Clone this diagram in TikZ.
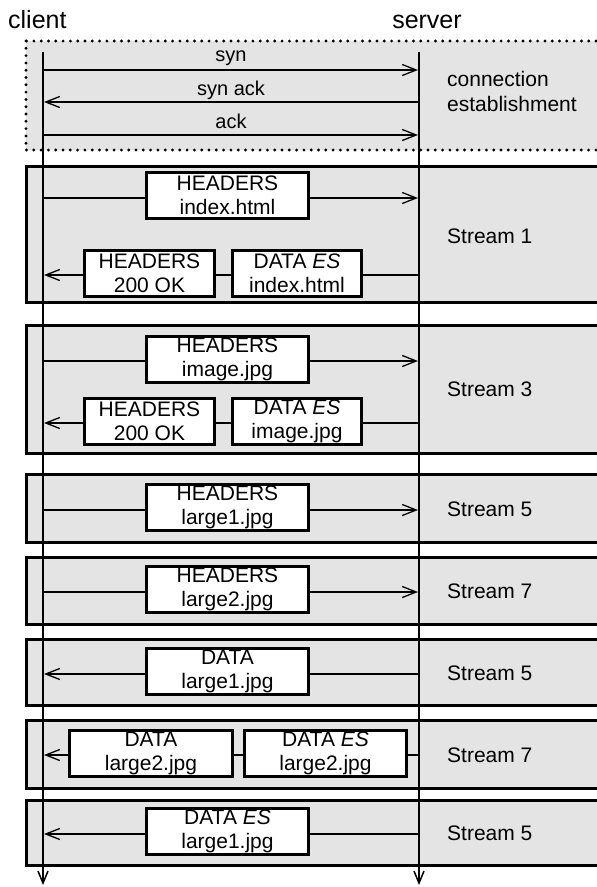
\documentclass[tikz,border=0pt]{standalone}
\usepackage{fontspec}
\setmainfont{Liberation Sans}
\usetikzlibrary{arrows.meta}
\definecolor{boxgray}{HTML}{E4E4E4}
\begin{document}
\begin{tikzpicture}[x=1pt,y=-1pt,
  grp/.style={fill=boxgray, draw=black, line width=3pt},
  dotgrp/.style={fill=boxgray, draw=black, line width=3.2pt, dash pattern=on 0pt off 7.3pt, line cap=round},
  msgbox/.style={draw, fill=white, line width=3pt, inner sep=0pt, align=center,
    font=\fontsize{21}{24}\selectfont, minimum height=46pt},
  lbl/.style={font=\fontsize{21}{25}\selectfont, align=left, anchor=west, inner sep=0pt},
  small/.style={font=\fontsize{20}{24}\selectfont, anchor=base, inner sep=0pt},
  head/.style={font=\fontsize{25}{30}\selectfont, anchor=base, inner sep=0pt},
  msg/.style={line width=1.3pt, -{Straight Barb[length=14pt,width=11pt,line width=1.3pt]}},
  wire/.style={line width=1.3pt},
  life/.style={line width=1.5pt, -{Straight Barb[length=12pt,width=10pt,line width=1.5pt]}}
]
\useasboundingbox (0,0) rectangle (597,887);
\clip (0,0) rectangle (597,887);

% titles
\node[head, anchor=base west] (client) at (8,28) {client};
\node[head] (server) at (427,28) {server};

% groups
\path[dotgrp] (26,41) rectangle (640,150);
\path[grp] (26,166) rectangle (640,302);
\path[grp] (26,325) rectangle (640,453);
\path[grp] (26,474) rectangle (640,542);
\path[grp] (26,557) rectangle (640,624);
\path[grp] (26,639) rectangle (640,705);
\path[grp] (26,720) rectangle (640,788);
\path[grp] (26,800) rectangle (640,865);

% group labels
\node[lbl] (lce) at (447,91) {connection\\establishment};
\node[lbl] (l1) at (447,236) {Stream 1};
\node[lbl] (l3) at (447,389) {Stream 3};
\node[lbl] (l5a) at (447,509) {Stream 5};
\node[lbl] (l7a) at (447,591) {Stream 7};
\node[lbl] (l5b) at (447,673) {Stream 5};
\node[lbl] (l7b) at (447,755) {Stream 7};
\node[lbl] (l5c) at (447,833) {Stream 5};

% lifelines
\coordinate (ctop) at (43,52);
\coordinate (cbot) at (43,885);
\coordinate (stop) at (419,52);
\coordinate (sbot) at (419,885);
\draw[life] (ctop) -- (cbot);
\draw[life] (stop) -- (sbot);

% connection establishment
\coordinate (c1) at (43,70);  \coordinate (s1) at (418,70);
\coordinate (c2) at (44,102); \coordinate (s2) at (419,102);
\coordinate (c3) at (43,135); \coordinate (s3) at (418,135);
\draw[msg] (c1) -- (s1);
\draw[msg] (s2) -- (c2);
\draw[msg] (c3) -- (s3);
\node[small] (syn) at (231,61) {syn};
\node[small] (synack) at (231,95) {syn ack};
\node[small] (ack) at (231,128) {ack};

% Stream 1
\coordinate (c4) at (43,198);  \coordinate (s4) at (418,198);
\coordinate (c5) at (44,275);  \coordinate (s5) at (419,275);
\draw[msg] (c4) -- (s4);
\draw[msg] (s5) -- (c5);
\node[msgbox, minimum width=162pt] (h1) at (227.5,195.5) {HEADERS\\index.html};
\node[msgbox, minimum width=130pt] (h1r) at (149.5,273) {HEADERS\\200 OK};
\node[msgbox, minimum width=129pt] (d1r) at (297,273) {DATA \textit{ES}\\index.html};

% Stream 3
\coordinate (c6) at (43,361);  \coordinate (s6) at (418,361);
\coordinate (c7) at (44,423);  \coordinate (s7) at (419,423);
\draw[msg] (c6) -- (s6);
\draw[msg] (s7) -- (c7);
\node[msgbox, minimum width=162pt] (h3) at (227.5,359) {HEADERS\\image.jpg};
\node[msgbox, minimum width=130pt] (h3r) at (149.5,421) {HEADERS\\200 OK};
\node[msgbox, minimum width=129pt] (d3r) at (297,421) {DATA \textit{ES}\\image.jpg};

% Stream 5 headers
\coordinate (c8) at (43,510);  \coordinate (s8) at (418,510);
\draw[msg] (c8) -- (s8);
\node[msgbox, minimum width=162pt] (h5) at (227.5,507.5) {HEADERS\\large1.jpg};

% Stream 7 headers
\coordinate (c9) at (43,592);  \coordinate (s9) at (418,592);
\draw[msg] (c9) -- (s9);
\node[msgbox, minimum width=162pt] (h7) at (227.5,589.5) {HEADERS\\large2.jpg};

% Stream 5 data
\coordinate (c10) at (44,674); \coordinate (s10) at (419,674);
\draw[msg] (s10) -- (c10);
\node[msgbox, minimum width=162pt] (d5) at (227.5,671.5) {DATA\\large1.jpg};

% Stream 7 data
\coordinate (c11) at (44,755); \coordinate (s11) at (419,755);
\draw[msg] (s11) -- (c11);
\node[msgbox, minimum width=163pt] (d7a) at (151,753) {DATA\\large2.jpg};
\node[msgbox, minimum width=162pt] (d7b) at (325.5,753) {DATA \textit{ES}\\large2.jpg};

% Stream 5 data end
\coordinate (c12) at (44,834); \coordinate (s12) at (419,834);
\draw[msg] (s12) -- (c12);
\node[msgbox, minimum width=162pt] (d5e) at (227.5,831.5) {DATA \textit{ES}\\large1.jpg};
\end{tikzpicture}
\end{document}
